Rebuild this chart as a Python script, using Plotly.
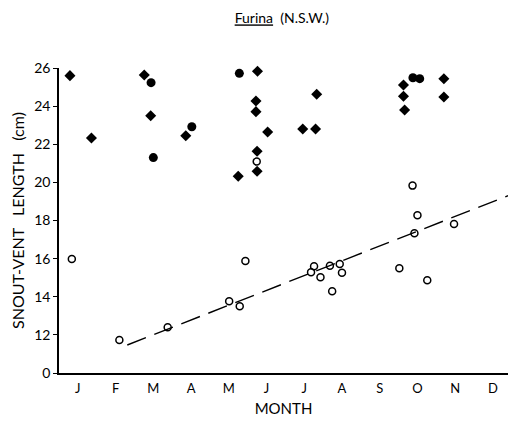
import plotly.graph_objects as go

# Month positions: 0 = J ... 11 = D
month_labels = ["J", "F", "M", "A", "M", "J", "J", "A", "S", "O", "N", "D"]
month_ticks = list(range(12))

# y axis has a break: "0" is drawn at position 10
y_tickvals = [10, 12, 14, 16, 18, 20, 22, 24, 26]
y_ticktext = ["0", "12", "14", "16", "18", "20", "22", "24", "26"]

# filled diamonds
diamond_x = [-0.21, 0.36, 1.76, 1.93, 2.86, 4.76, 4.72, 4.72, 5.03, 4.75,
             4.75, 4.25, 5.96, 6.30, 6.33, 8.63, 8.63, 8.66, 9.70, 9.70]
diamond_y = [25.6, 22.33, 25.63, 23.5, 22.45, 25.83, 24.27, 23.71, 22.64, 21.63,
             20.58, 20.32, 22.80, 22.80, 24.62, 25.11, 24.52, 23.80, 25.44, 24.48]

# filled circles
fcircle_x = [1.94, 2.0, 3.02, 4.28, 8.88, 9.06]
fcircle_y = [25.23, 21.3, 22.92, 25.72, 25.49, 25.44]

# open circles
ocircle_x = [-0.16, 1.10, 2.38, 4.01, 4.29, 4.44, 4.74, 6.18, 6.26, 6.43,
             6.68, 6.74, 6.94, 7.0, 8.52, 8.87, 8.92, 9.0, 9.26, 9.97]
ocircle_y = [15.98, 11.73, 12.40, 13.76, 13.50, 15.88, 21.09, 15.28, 15.60, 15.02,
             15.63, 14.29, 15.72, 15.26, 15.49, 19.83, 17.33, 18.27, 14.86, 17.82]

# growth line (dashed)
line_x = [1.31, 11.40]
line_y = [11.47, 19.30]

FONT = "Lato, 'Open Sans', sans-serif"
SP = "\u00a0"

fig = go.Figure()
fig.add_trace(go.Scatter(x=line_x, y=line_y, mode="lines",
                         line=dict(color="black", width=1.4, dash="20px,9px"),
                         showlegend=False, hoverinfo="skip"))
fig.add_trace(go.Scatter(x=diamond_x, y=diamond_y, mode="markers",
                         marker=dict(symbol="diamond", size=8.5, color="black"),
                         showlegend=False, cliponaxis=False))
fig.add_trace(go.Scatter(x=fcircle_x, y=fcircle_y, mode="markers",
                         marker=dict(symbol="circle", size=9, color="black"),
                         showlegend=False, cliponaxis=False))
fig.add_trace(go.Scatter(x=ocircle_x, y=ocircle_y, mode="markers",
                         marker=dict(symbol="circle-open", size=7, color="black",
                                     line=dict(width=1.5, color="black")),
                         showlegend=False, cliponaxis=False))

fig.update_layout(
    width=508, height=415,
    margin=dict(l=51, r=8, t=60, b=50, autoexpand=False),
    paper_bgcolor="white", plot_bgcolor="white",
    font=dict(family=FONT, color="black", size=13),
    title=dict(text="<u>Furina</u>" + SP * 2 + "(N.S.W.)", xref="container", x=0.539,
               xanchor="center", y=1 - 10.5 / 415, yanchor="middle",
               font=dict(size=14, family=FONT)),
    xaxis=dict(range=[-0.5, 11.4], tickvals=month_ticks, ticktext=month_labels,
               showline=True, linecolor="black", linewidth=1.5, ticks="",
               ticklabelstandoff=3,
               showgrid=False, zeroline=False, tickfont=dict(size=13),
               title=dict(text="MONTH", standoff=8, font=dict(size=15)),
               automargin=False),
    yaxis=dict(range=[10, 26], tickvals=y_tickvals, ticktext=y_ticktext,
               showline=True, linecolor="black", linewidth=1.5, ticks="outside",
               ticklen=4, tickwidth=1.2, tickcolor="black",
               showgrid=False, zeroline=False, tickfont=dict(size=14),
               title=dict(text="SNOUT-VENT" + SP * 3 + "LENGTH" + SP * 3 + "(cm)",
                          standoff=12, font=dict(size=16)),
               automargin=False),
)

fig.write_html("out.html")
